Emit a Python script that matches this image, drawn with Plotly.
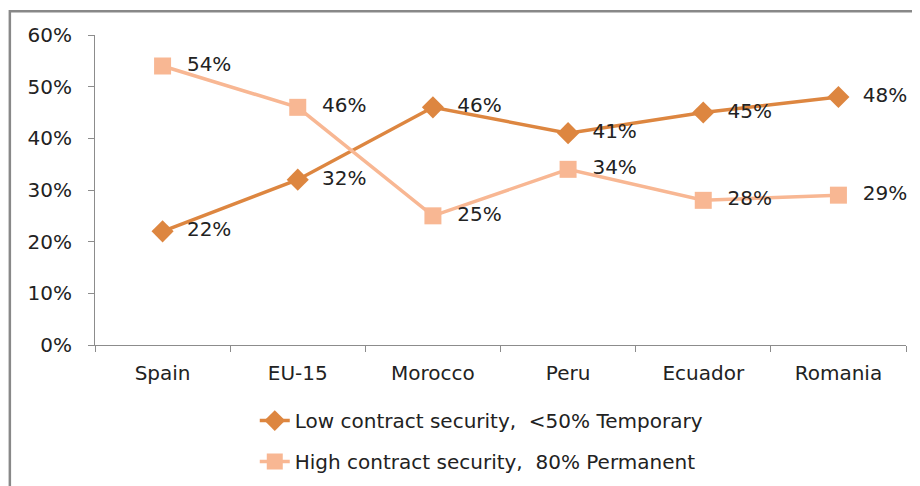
import plotly.graph_objects as go

countries = ["Spain", "EU-15", "Morocco", "Peru", "Ecuador", "Romania"]
low_security = [0.22, 0.32, 0.46, 0.41, 0.45, 0.48]
high_security = [0.54, 0.46, 0.25, 0.34, 0.28, 0.29]

low_name = "Low contract security,  <50% Temporary"
high_name = "High contract security,  80% Permanent"

dark_orange = "#DD8640"
light_orange = "#F8B793"
font_family = "DejaVu Sans, sans-serif"
text_color = "#222222"
fsize = 20

fig = go.Figure()
fig.add_trace(go.Scatter(
    x=countries, y=low_security, name=low_name, mode="lines+markers+text",
    line=dict(color=dark_orange, width=3.5),
    marker=dict(symbol="diamond", size=17, color=dark_orange),
    text=["  %d%%" % round(v * 100) for v in low_security],
    textposition="middle right", textfont=dict(size=fsize, color=text_color),
    legendgroup="low", cliponaxis=False,
))
fig.add_trace(go.Scatter(
    x=countries, y=high_security, name=high_name, mode="lines+markers+text",
    line=dict(color=light_orange, width=3.5),
    marker=dict(symbol="square", size=17, color=light_orange),
    text=["  %d%%" % round(v * 100) for v in high_security],
    textposition="middle right", textfont=dict(size=fsize, color=text_color),
    legendgroup="high", cliponaxis=False,
))

axis_grey = "#8C8C8C"
fig.update_xaxes(
    type="category", range=[-0.5, 5.5], showline=True, linecolor=axis_grey,
    linewidth=1, ticks="outside", tickson="boundaries", ticklen=6,
    tickcolor=axis_grey, showgrid=False, tickfont=dict(size=fsize, color=text_color),
    automargin=False, fixedrange=True, tickangle=0, ticklabelstandoff=10,
)
fig.update_yaxes(
    range=[0, 0.6], dtick=0.1, tickformat=".0%", showline=True,
    linecolor=axis_grey, linewidth=1, ticks="outside", ticklen=6,
    tickcolor=axis_grey, showgrid=False, zeroline=False,
    tickfont=dict(size=fsize, color=text_color), automargin=False,
    fixedrange=True, ticklabelstandoff=12,
)

# the page body adds an 8px offset, so margins are trimmed by that much
fig.update_layout(
    width=920, height=486,
    margin=dict(l=87, r=22, t=27, b=149),
    plot_bgcolor="white", paper_bgcolor="white",
    font=dict(family=font_family),
    showlegend=True,
    legend=dict(
        x=0.197, y=-0.181, xanchor="left", yanchor="top",
        font=dict(size=fsize, color=text_color),
        bgcolor="rgba(0,0,0,0)", borderwidth=0, tracegroupgap=12,
        traceorder="grouped",
    ),
    shapes=[
        dict(type="rect", xref="paper", yref="paper",
             x0=-0.105, x1=1.2, y0=-0.6, y1=1.077,
             line=dict(color="#888888", width=2.5), layer="below"),
    ],
)

fig.write_html("out.html")
